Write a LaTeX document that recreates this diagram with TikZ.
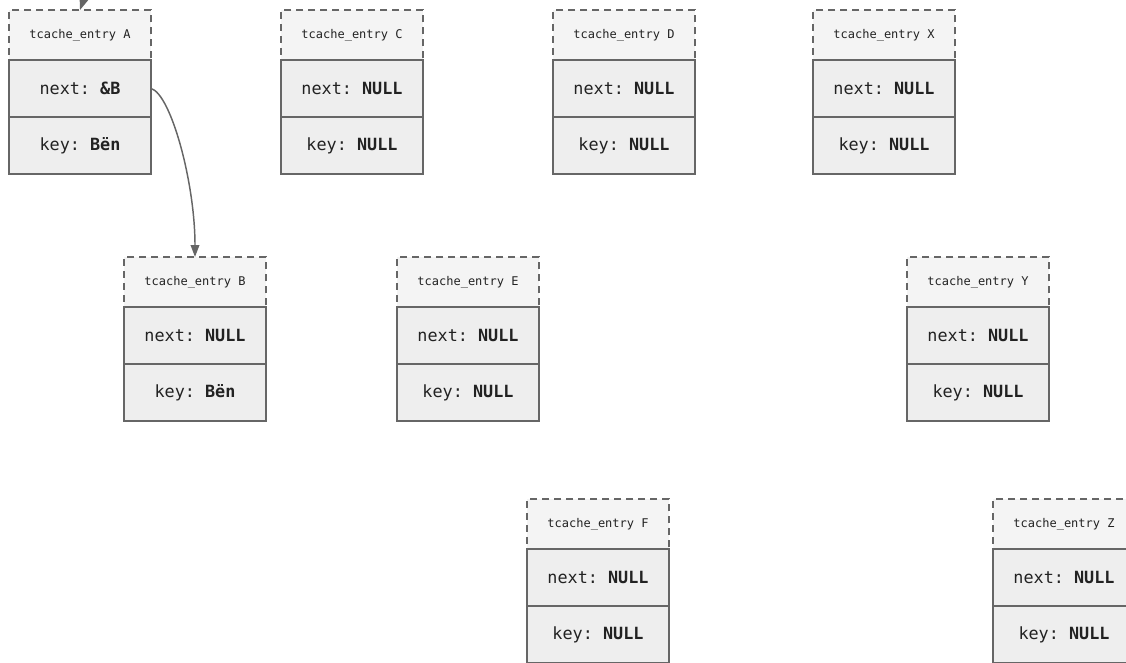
\documentclass[tikz,border=0pt]{standalone}
\usepackage{fontspec}
\setmonofont{DejaVu Sans Mono}
\usetikzlibrary{positioning,arrows.meta}
\definecolor{edgegray}{HTML}{666666}
\definecolor{headfill}{HTML}{F4F4F4}
\definecolor{rowfill}{HTML}{EEEEEE}
\definecolor{txtgray}{HTML}{222222}
\begin{document}
\begin{tikzpicture}[x=0.75pt, y=-0.75pt,
  headnode/.style={draw=edgegray, dash pattern=on 5.25pt off 3.75pt, fill=headfill, line width=1.1pt,
    minimum width=106.5pt, minimum height=37.5pt, inner sep=0pt, outer sep=0pt, anchor=north west,
    font=\ttfamily\fontsize{9}{11}\selectfont, text=txtgray},
  fieldnode/.style={draw=edgegray, fill=rowfill, line width=1.1pt,
    minimum width=106.5pt, minimum height=42.75pt, inner sep=0pt, outer sep=0pt,
    font=\ttfamily\fontsize{12.6}{15}\selectfont, text=txtgray},
  ptr/.style={-{Triangle[length=9pt, width=6.5pt]}, draw=edgegray, line width=1.1pt}]
  \useasboundingbox (0,0) rectangle (1126,662);
  \clip (0,0) rectangle (1126,662);

  % top row
  \node[headnode] (hA) at (9,10) {tcache\_entry A};
  \node[fieldnode, below=0pt of hA] (nA) {next: \textbf{\&B}};
  \node[fieldnode, below=0pt of nA] (kA) {key: \textbf{Bën}};

  \node[headnode] (hC) at (281,10) {tcache\_entry C};
  \node[fieldnode, below=0pt of hC] (nC) {next: \textbf{NULL}};
  \node[fieldnode, below=0pt of nC] (kC) {key: \textbf{NULL}};

  \node[headnode] (hD) at (553,10) {tcache\_entry D};
  \node[fieldnode, below=0pt of hD] (nD) {next: \textbf{NULL}};
  \node[fieldnode, below=0pt of nD] (kD) {key: \textbf{NULL}};

  \node[headnode] (hX) at (813,10) {tcache\_entry X};
  \node[fieldnode, below=0pt of hX] (nX) {next: \textbf{NULL}};
  \node[fieldnode, below=0pt of nX] (kX) {key: \textbf{NULL}};

  % middle row
  \node[headnode] (hB) at (124,257) {tcache\_entry B};
  \node[fieldnode, below=0pt of hB] (nB) {next: \textbf{NULL}};
  \node[fieldnode, below=0pt of nB] (kB) {key: \textbf{Bën}};

  \node[headnode] (hE) at (397,257) {tcache\_entry E};
  \node[fieldnode, below=0pt of hE] (nE) {next: \textbf{NULL}};
  \node[fieldnode, below=0pt of nE] (kE) {key: \textbf{NULL}};

  \node[headnode] (hY) at (907,257) {tcache\_entry Y};
  \node[fieldnode, below=0pt of hY] (nY) {next: \textbf{NULL}};
  \node[fieldnode, below=0pt of nY] (kY) {key: \textbf{NULL}};

  % bottom row
  \node[headnode] (hF) at (527,499) {tcache\_entry F};
  \node[fieldnode, below=0pt of hF] (nF) {next: \textbf{NULL}};
  \node[fieldnode, below=0pt of nF] (kF) {key: \textbf{NULL}};

  \node[headnode] (hZ) at (993,499) {tcache\_entry Z};
  \node[fieldnode, below=0pt of hZ] (nZ) {next: \textbf{NULL}};
  \node[fieldnode, below=0pt of nZ] (kZ) {key: \textbf{NULL}};

  % pointers
  \coordinate (head) at (104,-60);
  \draw[ptr] (head) -- (hA.north);
  \draw[ptr] (nA.east) to[out=-15, in=90, out looseness=0.3, in looseness=1.1] (hB.north);
\end{tikzpicture}
\end{document}
